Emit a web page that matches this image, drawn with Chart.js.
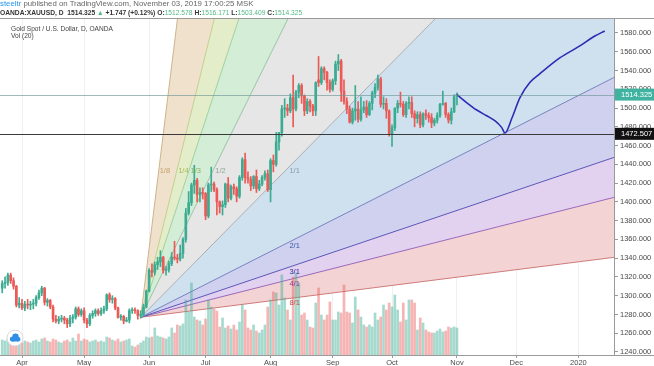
<!DOCTYPE html>
<html>
<head>
<meta charset="utf-8">
<script src="https://cdn.jsdelivr.net/npm/chart.js@4.4.1/dist/chart.umd.min.js"></script>
<style>
  html, body { margin: 0; padding: 0; background: #fff; }
  #wrap { position: relative; width: 654px; height: 366px; overflow: hidden;
          font-family: "Liberation Sans", Arial, sans-serif; }
  #chart { position: absolute; left: 0; top: 0; }
  .txt { position: absolute; white-space: nowrap; z-index: 2; }
  #hdr1 { left: 0; top: 0; font-size: 7.8px; line-height: 8px; color: #666; }
  #hdr1 .user { color: #2196f3; }
  #hdr2 { left: 0; top: 8px; font-size: 6.7px; line-height: 9px; color: #333; }
  #hdr2 b { font-weight: bold; }
  #hdr2 .g { color: #53b987; }
  #leg1 { left: 11px; top: 25px; font-size: 6.6px; line-height: 8px; color: #444; }
  #leg2 { left: 11px; top: 32px; font-size: 6.6px; line-height: 8px; color: #444; }
</style>
</head>
<body>
<div id="wrap">
  <canvas id="chart" width="654" height="366"></canvas>
  <div class="txt" id="hdr1"><span class="user">steeltr</span> published on TradingView.com, November 03, 2019 17:00:25 MSK</div>
  <div class="txt" id="hdr2"><b>OANDA:XAUUSD, D</b>&nbsp; <b>1514.325</b> <span class="g">&#9650;</span> <b>+1.747 (+0.12%)</b> <b>O:</b><span class="g">1512.578</span> <b>H:</b><span class="g">1516.171</span> <b>L:</b><span class="g">1503.409</span> <b>C:</b><span class="g">1514.325</span></div>
  <div class="txt" id="leg1">Gold Spot / U.S. Dollar, D, OANDA</div>
  <div class="txt" id="leg2">Vol (20)</div>
</div>
<script>
// XAUUSD daily, 21 Mar 2019 .. 1 Nov 2019 (bar index 1 = 21 Mar, 8 = 1 Apr, 162 = 1 Nov)
const firstBar = 1;

const opens = [
  1308, 1313, 1314, 1322, 1316, 1310, 1290,
  1292, 1287, 1291, 1290, 1291, 1292, 1298, 1303, 1308, 1293, 1295, 1288, 1275, 1273, 1275, 1276, 1274, 1270, 1276, 1277, 1286, 1280,
  1284, 1274, 1270, 1279, 1281, 1284, 1281, 1284, 1286, 1301, 1296, 1297, 1287, 1277, 1278, 1273, 1274, 1284, 1285, 1284, 1279, 1280, 1288,
  1305, 1327, 1325, 1333, 1336, 1341, 1327, 1328, 1334, 1341, 1340, 1339, 1345, 1360, 1388, 1399, 1418, 1423, 1408, 1410,
  1409, 1385, 1418, 1419, 1413, 1400, 1395, 1397, 1419, 1404, 1416, 1414, 1406, 1426, 1445, 1426, 1424, 1417, 1427, 1414, 1419, 1426, 1430,
  1413, 1444, 1440, 1464, 1474, 1499, 1500, 1497, 1511, 1499, 1517, 1524, 1513, 1497, 1507, 1502, 1497, 1530, 1527, 1542, 1538, 1527,
  1520, 1529, 1547, 1550, 1518, 1507, 1499, 1485, 1497, 1499, 1488, 1498, 1501, 1493, 1505, 1516, 1522, 1531, 1504, 1505, 1497,
  1472, 1479, 1500, 1505, 1504, 1493, 1505, 1506, 1494, 1489, 1493, 1482, 1494, 1492, 1490, 1484, 1487, 1492, 1504, 1505, 1493, 1487, 1496, 1512.578
];
const highs = [
  1316, 1320, 1324, 1324, 1319, 1311, 1298,
  1296, 1294, 1296, 1294, 1296, 1300, 1306, 1310, 1309, 1297, 1296, 1290, 1279, 1278, 1279, 1278, 1276, 1279, 1280, 1288, 1288, 1286,
  1287, 1276, 1281, 1284, 1286, 1286, 1287, 1289, 1302, 1303, 1300, 1298, 1288, 1280, 1279, 1277, 1286, 1287, 1287, 1285, 1284, 1291, 1306,
  1329, 1334, 1336, 1341, 1348, 1342, 1331, 1337, 1346, 1358, 1344, 1354, 1362, 1393, 1411, 1420, 1439, 1425, 1415, 1415,
  1410, 1420, 1437, 1421, 1415, 1401, 1401, 1420, 1426, 1418, 1419, 1416, 1428, 1447, 1452, 1432, 1427, 1428, 1434, 1423, 1428, 1433, 1434,
  1446, 1450, 1474, 1474, 1503, 1510, 1504, 1515, 1535, 1519, 1526, 1526, 1514, 1510, 1509, 1504, 1528, 1555, 1544, 1544, 1539, 1530,
  1531, 1550, 1557, 1552, 1530, 1511, 1502, 1500, 1524, 1507, 1512, 1507, 1508, 1507, 1518, 1526, 1535, 1533, 1512, 1510, 1498,
  1482, 1500, 1508, 1517, 1507, 1507, 1512, 1512, 1497, 1496, 1496, 1495, 1498, 1495, 1494, 1489, 1495, 1505, 1518, 1506, 1495, 1500, 1514, 1516.171
];
const lows = [
  1303, 1308, 1311, 1313, 1307, 1288, 1287,
  1285, 1284, 1286, 1285, 1286, 1289, 1296, 1300, 1290, 1289, 1286, 1272, 1271, 1270, 1272, 1270, 1266, 1267, 1271, 1275, 1278, 1278,
  1271, 1266, 1268, 1276, 1278, 1279, 1279, 1281, 1284, 1293, 1292, 1285, 1276, 1274, 1270, 1272, 1271, 1281, 1281, 1275, 1276, 1278, 1287,
  1304, 1320, 1322, 1328, 1331, 1324, 1322, 1325, 1332, 1338, 1335, 1337, 1340, 1357, 1386, 1396, 1409, 1400, 1400, 1403,
  1381, 1383, 1411, 1411, 1386, 1388, 1386, 1394, 1400, 1402, 1408, 1400, 1404, 1423, 1420, 1420, 1412, 1414, 1410, 1412, 1417, 1423, 1411,
  1400, 1432, 1438, 1455, 1470, 1490, 1492, 1495, 1480, 1497, 1511, 1505, 1492, 1494, 1496, 1492, 1492, 1523, 1525, 1530, 1519, 1517,
  1518, 1525, 1540, 1507, 1504, 1494, 1484, 1483, 1487, 1485, 1486, 1495, 1490, 1492, 1498, 1511, 1519, 1501, 1499, 1489, 1470,
  1459, 1476, 1495, 1501, 1491, 1490, 1499, 1490, 1480, 1484, 1479, 1480, 1488, 1485, 1479, 1481, 1484, 1490, 1503, 1490, 1484, 1483, 1495, 1503.409
];
const closes = [
  1313, 1314, 1322, 1316, 1310, 1290, 1292,
  1287, 1291, 1290, 1291, 1292, 1298, 1303, 1308, 1293, 1295, 1288, 1275, 1273, 1275, 1276, 1274, 1270, 1276, 1277, 1286, 1280, 1284,
  1274, 1270, 1279, 1281, 1284, 1281, 1284, 1286, 1301, 1296, 1297, 1287, 1277, 1278, 1273, 1274, 1284, 1285, 1284, 1279, 1280, 1288, 1305,
  1327, 1325, 1333, 1336, 1341, 1327, 1328, 1334, 1341, 1340, 1339, 1345, 1360, 1388, 1399, 1418, 1423, 1408, 1410, 1409,
  1385, 1418, 1419, 1413, 1400, 1395, 1397, 1419, 1404, 1416, 1414, 1406, 1426, 1445, 1426, 1424, 1417, 1427, 1414, 1419, 1426, 1430, 1413,
  1444, 1440, 1464, 1474, 1499, 1500, 1497, 1511, 1499, 1517, 1524, 1513, 1497, 1507, 1502, 1497, 1527, 1527, 1542, 1538, 1527, 1520,
  1529, 1547, 1550, 1518, 1507, 1499, 1485, 1497, 1499, 1488, 1498, 1501, 1493, 1505, 1516, 1522, 1531, 1504, 1505, 1497, 1472,
  1479, 1500, 1505, 1504, 1493, 1505, 1506, 1494, 1489, 1493, 1482, 1494, 1492, 1490, 1484, 1487, 1492, 1504, 1505, 1493, 1487, 1496, 1512, 1514.325
];
const volumes = [
  15, 14, 17, 13, 15, 18, 13,
  12, 14, 13, 12, 14, 15, 13, 16, 17, 14, 13, 16, 15,
  13, 12, 14, 15, 13, 17, 14, 21, 14,
  16, 15, 13, 14, 15, 13, 14, 13,
  18, 17, 15, 14, 16, 13, 14, 15,
  16, 9, 8, 10, 12, 14, 18,
  17, 18, 27, 19, 18, 17, 16, 18,
  27, 22, 30, 29, 31, 55,
  43, 72, 38, 35, 34, 30,
  36, 55, 48, 46,
  44, 28, 37, 27, 29, 26, 30, 25,
  33, 50, 45, 27, 25, 30, 24, 22,
  25, 30, 48,
  55, 63, 62, 50, 80, 57, 45, 35,
  78, 82, 72, 40, 42, 35, 28, 27, 52, 67, 40, 35, 40, 53,
  35, 35, 43, 42, 70, 43, 42, 32, 58, 45, 38, 30, 28, 30, 28, 42, 35, 38, 50, 45, 52,
  48, 60, 45, 33, 52, 35, 55, 55, 52, 25, 37, 32, 25, 23, 22, 22, 24, 26, 23, 24, 28, 27, 28, 27
];

// hand-drawn forecast path (bar index, price)
const forecastIdx   = [162, 165.4, 169, 172.5, 175.4, 177.8, 179, 181.5, 184.3, 187.8, 191.3, 198.4, 205.5, 210.8, 214.3];
const forecastPrice = [1514.3, 1505.9, 1497.9, 1491.8, 1486.5, 1479.4, 1473.5, 1489.7, 1511.2, 1527.2, 1536.4, 1553.4, 1566.2, 1576.8, 1582.1];

// Gann fan
const fanOriginIdx = 50;
const fanOriginPrice = 1277;
const fanUnit = 3.05;                 // price per bar on the 1/1 line
const fanAnchorIdx = 102.5;
const fanAnchorPrice = 1437;
const fanLabels  = ['1/8', '1/4', '1/3', '1/2', '1/1', '2/1', '3/1', '4/1', '8/1'];
const fanFactors = [8, 4, 3, 2, 1, 1 / 2, 1 / 3, 1 / 4, 1 / 8];
const fanLineColors = ['#cdb48f', '#c3cf8e', '#9fd09f', '#9cc3a8', '#a9adb2', '#7382c0', '#5b55b8', '#9a68bb', '#cf7a7a'];
const fanFillColors = [null, '#efe1cb', '#e4edc9', '#d3edd6', '#e6e6e6', '#cfe1ee', '#d0d1ef', '#e2d1ef', '#f3d3d3'];
const fanTextColors = ['#c4a06c', '#a9b95a', '#92b35e', '#8fa595', '#8b98a8', '#3a56a8', '#2e2a98', '#9c2f98', '#d04444'];

// horizontal levels
const lastPrice = 1514.325;
const levelPrice = 1472.507;

// axes
const monthIdx    = [8, 30, 53, 73, 96, 118, 139, 162, 183, 205];
const monthLabels = ['Apr', 'May', 'Jun', 'Jul', 'Aug', 'Sep', 'Oct', 'Nov', 'Dec', '2020'];
const priceTicks  = [1240, 1260, 1280, 1300, 1320, 1340, 1360, 1380, 1400, 1420, 1440, 1460, 1480, 1500, 1520, 1540, 1560, 1580];
const xMin = 0.21, xMax = 217.6;
const yMin = 1236.8, yMax = 1594.9;

const UP = '#3bac92', DOWN = '#ec5a58';
const UP_VOL = 'rgba(59,172,146,0.45)', DOWN_VOL = 'rgba(236,90,88,0.45)';

const barIdx = closes.map((_, i) => firstBar + i);
const isUp = closes.map((c, i) => c >= opens[i]);

const fanDatasets = fanLabels.map((lab, i) => ({
  type: 'line',
  label: lab,
  data: [
    { x: fanOriginIdx, y: fanOriginPrice },
    { x: xMax + 1, y: fanOriginPrice + fanUnit * fanFactors[i] * (xMax + 1 - fanOriginIdx) }
  ],
  borderColor: fanLineColors[i],
  borderWidth: 1,
  pointRadius: 0,
  fill: i === 0 ? false : '-1',
  backgroundColor: fanFillColors[i] || 'transparent',
  order: 20
}));

const overlayPlugin = {
  id: 'overlay',
  afterDatasetsDraw(chart) {
    const { ctx, chartArea: a, scales: { x, y } } = chart;
    ctx.save();
    ctx.beginPath();
    ctx.rect(a.left, a.top, a.right - a.left, a.bottom - a.top);
    ctx.clip();

    // level lines
    ctx.lineWidth = 1;
    ctx.strokeStyle = 'rgba(110,150,150,0.65)';
    let py = Math.round(y.getPixelForValue(lastPrice)) + 0.5;
    ctx.beginPath(); ctx.moveTo(a.left, py); ctx.lineTo(a.right, py); ctx.stroke();
    ctx.strokeStyle = '#3a3a3a';
    py = Math.round(y.getPixelForValue(levelPrice)) + 0.5;
    ctx.beginPath(); ctx.moveTo(a.left, py); ctx.lineTo(a.right, py); ctx.stroke();

    // fan labels
    ctx.font = '7.5px "Liberation Sans", Arial, sans-serif';
    ctx.textBaseline = 'top';
    ctx.textAlign = 'left';
    fanLabels.forEach((lab, i) => {
      const k = fanFactors[i];
      let li, lp;
      if (k > 1) {
        lp = fanAnchorPrice;
        li = fanOriginIdx + (lp - fanOriginPrice) / (fanUnit * k);
      } else {
        li = fanAnchorIdx;
        lp = fanOriginPrice + fanUnit * k * (li - fanOriginIdx);
      }
      ctx.fillStyle = fanTextColors[i];
      ctx.fillText(lab, x.getPixelForValue(li) + 0.5, y.getPixelForValue(lp) + 0.5);
    });
    ctx.restore();
  },
  afterDraw(chart) {
    const { ctx, chartArea: a, scales: { y } } = chart;
    ctx.save();
    // frame lines across the price scale too
    ctx.strokeStyle = '#9a9a9a';
    ctx.lineWidth = 1;
    ctx.beginPath(); ctx.moveTo(0, a.bottom + 0.5); ctx.lineTo(654, a.bottom + 0.5); ctx.stroke();
    ctx.beginPath(); ctx.moveTo(0, a.top - 0.5); ctx.lineTo(654, a.top - 0.5); ctx.stroke();

    // price tags
    const tag = (price, bg) => {
      const py = y.getPixelForValue(price);
      ctx.fillStyle = bg;
      ctx.fillRect(a.right + 1, py - 6, 654 - a.right - 1, 12);
      ctx.fillStyle = '#fff';
      ctx.font = '7.5px "Liberation Sans", Arial, sans-serif';
      ctx.textBaseline = 'middle';
      ctx.textAlign = 'left';
      ctx.fillText(price.toFixed(3), a.right + 7, py + 0.5);
    };
    tag(lastPrice, '#3fb3a0');
    tag(levelPrice, '#111');

    // TradingView badge
    const cx = 15, cy = 338;
    ctx.beginPath(); ctx.arc(cx, cy, 8, 0, Math.PI * 2);
    ctx.fillStyle = '#fff'; ctx.fill();
    ctx.strokeStyle = '#d6dae2'; ctx.stroke();
    ctx.fillStyle = '#2f8fe8';
    ctx.beginPath();
    ctx.arc(cx - 2.5, cy + 1, 2.6, 0, Math.PI * 2);
    ctx.arc(cx + 0.5, cy - 1.2, 3.2, 0, Math.PI * 2);
    ctx.arc(cx + 3.2, cy + 1.2, 2.3, 0, Math.PI * 2);
    ctx.fill();
    ctx.fillRect(cx - 2.5, cy + 1, 5.7, 2.5);
    ctx.restore();
  }
};

new Chart(document.getElementById('chart'), {
  data: {
    datasets: [
      ...fanDatasets,
      {
        type: 'bar',
        label: 'Volume',
        yAxisID: 'yv',
        data: barIdx.map((bx, i) => ({ x: bx, y: volumes[i] })),
        backgroundColor: isUp.map(u => (u ? UP_VOL : DOWN_VOL)),
        barThickness: 2,
        grouped: false,
        order: 10
      },
      {
        type: 'bar',
        label: 'Wicks',
        yAxisID: 'y',
        data: barIdx.map((bx, i) => ({ x: bx, y: [lows[i], highs[i]] })),
        backgroundColor: isUp.map(u => (u ? UP : DOWN)),
        barThickness: 1,
        grouped: false,
        order: 3
      },
      {
        type: 'bar',
        label: 'Bodies',
        yAxisID: 'y',
        data: barIdx.map((bx, i) => ({ x: bx, y: [opens[i], closes[i]] })),
        backgroundColor: isUp.map(u => (u ? UP : DOWN)),
        barThickness: 2,
        minBarLength: 1,
        grouped: false,
        order: 2
      },
      {
        type: 'line',
        label: 'Forecast',
        yAxisID: 'y',
        data: forecastIdx.map((fx, i) => ({ x: fx, y: forecastPrice[i] })),
        borderColor: '#2b2bb4',
        borderWidth: 1.6,
        pointRadius: 0,
        cubicInterpolationMode: 'monotone',
        fill: false,
        order: 0
      }
    ]
  },
  options: {
    responsive: false,
    animation: false,
    events: [],
    layout: { padding: { top: 19, left: 0, right: 0, bottom: 0 } },
    plugins: {
      legend: { display: false },
      tooltip: { enabled: false },
      filler: { drawTime: 'beforeDatasetsDraw' }
    },
    scales: {
      x: {
        type: 'linear',
        offset: false,
        min: xMin,
        max: xMax,
        afterBuildTicks: ax => { ax.ticks = monthIdx.map(v => ({ value: v })); },
        afterFit: s => { s.height = 11; s.paddingLeft = 0; s.paddingRight = 0; },
        ticks: {
          callback: v => { const k = monthIdx.indexOf(v); return k >= 0 ? monthLabels[k] : ''; },
          font: { size: 7.5, family: '"Liberation Sans", Arial, sans-serif' },
          color: '#4a4a4a',
          padding: 0,
          maxRotation: 0,
          autoSkip: false
        },
        grid: { offset: false, color: '#edf0f4', tickLength: 3, tickColor: '#9a9a9a' },
        border: { color: '#9a9a9a' }
      },
      y: {
        type: 'linear',
        position: 'right',
        min: yMin,
        max: yMax,
        afterBuildTicks: ax => { ax.ticks = priceTicks.map(v => ({ value: v })); },
        afterFit: s => { s.width = 40; s.paddingTop = 0; s.paddingBottom = 0; },
        ticks: {
          callback: v => Number(v).toFixed(3),
          font: { size: 7.5, family: '"Liberation Sans", Arial, sans-serif' },
          color: '#4a4a4a',
          padding: 2
        },
        grid: { drawOnChartArea: false, tickLength: 4, tickColor: '#9a9a9a' },
        border: { color: '#9a9a9a' }
      },
      yv: { type: 'linear', display: false, min: 0, max: 336 }
    }
  },
  plugins: [overlayPlugin]
});
</script>
</body>
</html>
